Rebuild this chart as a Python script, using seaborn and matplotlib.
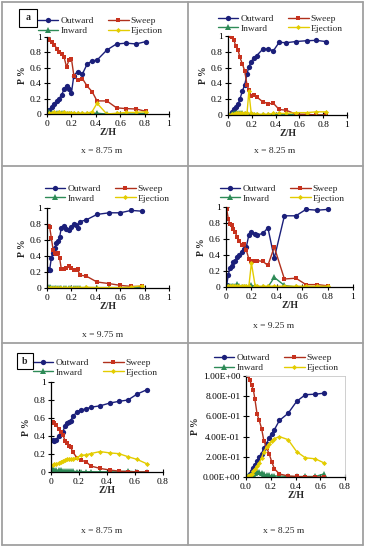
import matplotlib
matplotlib.use("Agg")
import matplotlib.pyplot as plt
import seaborn as sns
import numpy as np
from matplotlib.lines import Line2D
from matplotlib.patches import Rectangle
from matplotlib.ticker import FuncFormatter

# panel a, x = 8.75 m
z_a1 = [0.01, 0.02, 0.04, 0.06, 0.08, 0.10, 0.12, 0.14, 0.16, 0.18, 0.20, 0.22, 0.25, 0.29, 0.33, 0.37, 0.41, 0.49, 0.57, 0.65, 0.73, 0.81]
out_a1 = [0.0, 0.05, 0.09, 0.13, 0.17, 0.2, 0.25, 0.32, 0.37, 0.33, 0.27, 0.5, 0.55, 0.52, 0.65, 0.69, 0.70, 0.83, 0.91, 0.92, 0.91, 0.94]
sweep_a1 = [0.98, 0.96, 0.94, 0.90, 0.85, 0.81, 0.78, 0.74, 0.61, 0.70, 0.72, 0.50, 0.44, 0.46, 0.36, 0.29, 0.17, 0.17, 0.08, 0.07, 0.065, 0.035]
inw_a1 = [0.02, 0.02, 0.01, 0.01, 0.01, 0.01, 0.01, 0.01, 0.005, 0.005, 0.005, 0.005, 0.005, 0.005, 0.005, 0.005, 0.01, 0.0, 0.0, 0.0, 0.0, 0.01]
ej_a1 = [0.0, 0.01, 0.01, 0.02, 0.01, 0.02, 0.01, 0.02, 0.01, 0.01, 0.01, 0.01, 0.01, 0.01, 0.01, 0.03, 0.14, 0.0, 0.01, 0.02, 0.02, 0.03]

# panel a, x = 8.25 m
z_a2 = [0.01, 0.03, 0.05, 0.065, 0.085, 0.10, 0.12, 0.14, 0.16, 0.175, 0.195, 0.215, 0.24, 0.29, 0.34, 0.38, 0.43, 0.49, 0.57, 0.66, 0.74, 0.82]
out_a2 = [0.0, 0.04, 0.07, 0.10, 0.14, 0.20, 0.30, 0.38, 0.52, 0.61, 0.675, 0.72, 0.75, 0.83, 0.84, 0.81, 0.92, 0.915, 0.93, 0.94, 0.945, 0.93]
sweep_a2 = [1.0, 0.99, 0.95, 0.87, 0.82, 0.73, 0.65, 0.56, 0.38, 0.32, 0.24, 0.25, 0.23, 0.17, 0.14, 0.15, 0.07, 0.06, 0.01, 0.01, 0.0, 0.0]
inw_a2 = [0.0, 0.01, 0.02, 0.03, 0.03, 0.03, 0.02, 0.01, 0.005, 0.0, 0.0, 0.0, 0.005, 0.0, 0.005, 0.005, 0.01, 0.01, 0.0, 0.0, 0.0, 0.0]
ej_a2 = [0.0, 0.01, 0.01, 0.02, 0.02, 0.02, 0.02, 0.02, 0.02, 0.30, 0.02, 0.01, 0.01, 0.01, 0.01, 0.02, 0.02, 0.02, 0.03, 0.03, 0.04, 0.04]

# panel a, x = 9.75 m
z_a3 = [0.008, 0.022, 0.036, 0.05, 0.063, 0.077, 0.09, 0.104, 0.117, 0.137, 0.158, 0.18, 0.20, 0.22, 0.235, 0.25, 0.27, 0.32, 0.41, 0.51, 0.60, 0.69, 0.78]
out_a3 = [0.24, 0.23, 0.38, 0.44, 0.50, 0.56, 0.59, 0.64, 0.75, 0.77, 0.74, 0.73, 0.76, 0.80, 0.79, 0.75, 0.83, 0.85, 0.92, 0.94, 0.94, 0.97, 0.96]
sweep_a3 = [0.77, 0.76, 0.62, 0.48, 0.44, 0.42, 0.44, 0.37, 0.24, 0.24, 0.25, 0.27, 0.25, 0.22, 0.23, 0.24, 0.16, 0.15, 0.075, 0.055, 0.033, 0.02, 0.02]
inw_a3 = [0.01, 0.01, 0.005, 0.005, 0.005, 0.005, 0.005, 0.005, 0.005, 0.005, 0.005, 0.005, 0.005, 0.005, 0.005, 0.005, 0.005, 0.005, 0.005, 0.005, 0.005, 0.005, 0.01]
ej_a3 = [0.0, 0.005, 0.005, 0.005, 0.005, 0.005, 0.005, 0.005, 0.005, 0.005, 0.005, 0.005, 0.005, 0.005, 0.005, 0.005, 0.005, 0.01, 0.005, 0.005, 0.005, 0.01, 0.03]

# panel a, x = 9.25 m
z_a4 = [0.005, 0.018, 0.03, 0.045, 0.058, 0.07, 0.09, 0.105, 0.123, 0.14, 0.16, 0.18, 0.20, 0.23, 0.246, 0.29, 0.33, 0.38, 0.46, 0.55, 0.63, 0.72, 0.80]
out_a4 = [0.02, 0.15, 0.24, 0.26, 0.31, 0.33, 0.375, 0.40, 0.44, 0.48, 0.50, 0.65, 0.69, 0.66, 0.65, 0.67, 0.74, 0.36, 0.89, 0.89, 0.97, 0.96, 0.97]
sweep_a4 = [0.98, 0.85, 0.79, 0.77, 0.73, 0.69, 0.62, 0.58, 0.52, 0.54, 0.46, 0.35, 0.33, 0.33, 0.33, 0.32, 0.27, 0.50, 0.10, 0.11, 0.03, 0.03, 0.015]
inw_a4 = [0.0, 0.01, 0.01, 0.01, 0.01, 0.01, 0.04, 0.01, 0.0, 0.0, 0.0, 0.0, 0.02, 0.01, 0.0, 0.0, 0.0, 0.12, 0.02, 0.0, 0.0, 0.0, 0.0]
ej_a4 = [0.0, 0.01, 0.01, 0.01, 0.01, 0.01, 0.01, 0.01, 0.01, 0.01, 0.01, 0.01, 0.30, 0.01, 0.01, 0.01, 0.01, 0.01, 0.01, 0.01, 0.01, 0.01, 0.01]

# panel b, x = 8.75 m
z_b1 = [0.012, 0.024, 0.038, 0.054, 0.07, 0.085, 0.10, 0.114, 0.125, 0.14, 0.156, 0.185, 0.213, 0.25, 0.284, 0.35, 0.42, 0.485, 0.55, 0.615, 0.686]
out_b1 = [0.36, 0.35, 0.36, 0.40, 0.42, 0.45, 0.51, 0.54, 0.56, 0.57, 0.62, 0.665, 0.69, 0.70, 0.72, 0.735, 0.766, 0.785, 0.80, 0.866, 0.915]
sweep_b1 = [0.56, 0.55, 0.52, 0.48, 0.45, 0.41, 0.35, 0.32, 0.29, 0.28, 0.22, 0.16, 0.13, 0.115, 0.067, 0.04, 0.022, 0.01, 0.004, 0.0, 0.0]
inw_b1 = [0.03, 0.025, 0.02, 0.02, 0.018, 0.015, 0.015, 0.012, 0.01, 0.01, 0.008, 0.005, 0.005, 0.003, 0.003, 0.002, 0.002, 0.002, 0.01, 0.0, 0.0]
ej_b1 = [0.078, 0.085, 0.09, 0.10, 0.115, 0.125, 0.13, 0.145, 0.14, 0.14, 0.15, 0.16, 0.185, 0.19, 0.205, 0.227, 0.212, 0.204, 0.17, 0.14, 0.09]

# panel b, x = 8.25 m
z_b2 = [0.013, 0.03, 0.045, 0.06, 0.072, 0.09, 0.107, 0.126, 0.144, 0.166, 0.187, 0.208, 0.23, 0.27, 0.34, 0.41, 0.48, 0.56, 0.63]
out_b2 = [0.0, 0.03, 0.06, 0.09, 0.12, 0.16, 0.20, 0.23, 0.29, 0.33, 0.39, 0.43, 0.47, 0.56, 0.63, 0.75, 0.815, 0.82, 0.83]
sweep_b2 = [1.0, 0.96, 0.91, 0.86, 0.77, 0.62, 0.56, 0.48, 0.36, 0.29, 0.23, 0.15, 0.08, 0.03, 0.01, 0.005, 0.0, 0.0, 0.0]
inw_b2 = [0.005, 0.01, 0.02, 0.03, 0.04, 0.05, 0.045, 0.035, 0.025, 0.02, 0.015, 0.012, 0.01, 0.01, 0.005, 0.005, 0.005, 0.005, 0.03]
ej_b2 = [0.005, 0.02, 0.03, 0.06, 0.08, 0.11, 0.14, 0.19, 0.25, 0.30, 0.33, 0.36, 0.38, 0.40, 0.37, 0.25, 0.19, 0.18, 0.14]

sns.set_style("white")
plt.rcParams['font.family'] = ['Liberation Serif', 'DejaVu Serif']
FS = 6.8

W, H = 365, 550
fig = plt.figure(figsize=(W / 100, H / 100), dpi=100)


def px_axes(x0, x1, ytop, ybot):
    return fig.add_axes([x0 / W, 1 - ybot / H, (x1 - x0) / W, (ybot - ytop) / H])


def draw_panel(rect, z, out, sweep, inw, ej, xmax, caption, cap_xy, leg_xy, sci=False):
    ax = px_axes(*rect)
    sns.lineplot(x=z, y=out, ax=ax, color='#1b1f7a', marker='o', markersize=3.8,
                 markeredgewidth=0, linewidth=1.0, label='Outward')
    sns.lineplot(x=z, y=inw, ax=ax, color='#2e8b57', marker='^', markersize=3.8,
                 markeredgewidth=0, linewidth=1.0, label='Inward')
    sns.lineplot(x=z, y=sweep, ax=ax, color='#b0301c', marker='s', markersize=3.5,
                 markeredgewidth=0, markerfacecolor='#c8321e', linewidth=1.0, label='Sweep')
    sns.lineplot(x=z, y=ej, ax=ax, color='#e3cc00', marker='D', markersize=2.6,
                 markeredgewidth=0, linewidth=1.0, label='Ejection')
    ax.set_xlim(0, xmax)
    ax.set_ylim(0, 1)
    ax.set_xticks(np.arange(0, xmax + 0.01, 0.2))
    ax.set_yticks(np.arange(0, 1.01, 0.2))
    if sci:
        ax.yaxis.set_major_formatter(FuncFormatter(lambda v, p: '{:.2E}'.format(v)))
        ax.xaxis.set_major_formatter(FuncFormatter(lambda v, p: '{:.1f}'.format(v)))
    else:
        ax.yaxis.set_major_formatter(FuncFormatter(lambda v, p: '{:g}'.format(round(v, 2))))
        ax.xaxis.set_major_formatter(FuncFormatter(lambda v, p: '{:g}'.format(round(v, 2))))
    for s in ['left', 'bottom']:
        ax.spines[s].set_color('black')
        ax.spines[s].set_linewidth(0.9)
    for s in ['top', 'right']:
        ax.spines[s].set_visible(sci)
        ax.spines[s].set_color('#c8c8c8')
        ax.spines[s].set_linewidth(0.6)
    ax.tick_params(direction='inout', length=4, width=0.8, labelsize=FS, pad=2,
                   left=True, bottom=True, colors='black')
    ax.set_xlabel('Z/H', fontsize=7, fontweight='bold', labelpad=0)
    ax.set_ylabel('P %', fontsize=7, fontweight='bold', labelpad=2)
    h, l = ax.get_legend_handles_labels()
    ax.legend(h, l, ncol=2, loc='center', bbox_to_anchor=(leg_xy[0] / W, 1 - leg_xy[1] / H),
              bbox_transform=fig.transFigure, frameon=False, fontsize=FS,
              handlelength=2.2, handletextpad=0.2, columnspacing=1.5, labelspacing=0.12,
              borderpad=0)
    fig.text(cap_xy[0] / W, 1 - cap_xy[1] / H, caption, fontsize=FS, ha='center', va='center')
    return ax


draw_panel((47, 169, 37, 114), z_a1, out_a1, sweep_a1, inw_a1, ej_a1, 1.0, 'x = 8.75 m', (102, 151), (100, 26))
draw_panel((228, 347, 36, 115), z_a2, out_a2, sweep_a2, inw_a2, ej_a2, 1.0, 'x = 8.25 m', (275, 151), (280, 23.5))
draw_panel((47, 169, 208, 288), z_a3, out_a3, sweep_a3, inw_a3, ej_a3, 1.0, 'x = 9.75 m', (103, 335), (107, 193.5))
draw_panel((226, 353, 207, 287), z_a4, out_a4, sweep_a4, inw_a4, ej_a4, 1.0, 'x = 9.25 m', (274, 326), (282, 193.5))
draw_panel((51, 163, 382, 472), z_b1, out_b1, sweep_b1, inw_b1, ej_b1, 0.8, 'x = 8.75 m', (102, 531), (95, 367.5))
draw_panel((246, 345, 376, 477), z_b2, out_b2, sweep_b2, inw_b2, ej_b2, 0.8, 'x = 8.25 m', (284, 531), (276, 363), sci=True)

# grid of panel borders
grey = '#a0a0a0'
for (xa, ya, xb, yb) in [(2, 2, 363, 2), (2, 545, 363, 545), (2, 2, 2, 545), (363, 2, 363, 545),
                         (188, 2, 188, 545), (2, 166, 363, 166), (2, 343, 363, 343)]:
    fig.add_artist(Line2D([xa / W, xb / W], [1 - ya / H, 1 - yb / H], color=grey, lw=1.3))

# panel letters
for letter, (bx, by, bs) in [('a', (19, 9, 18)), ('b', (17, 353, 16))]:
    fig.add_artist(Rectangle((bx / W, 1 - (by + bs) / H), bs / W, bs / H, fill=False,
                             edgecolor='black', lw=0.8, transform=fig.transFigure))
    fig.text((bx + bs / 2) / W, 1 - (by + bs / 2) / H, letter, fontsize=7, fontweight='bold',
             ha='center', va='center')

fig.savefig('out.png', dpi=100, facecolor='white')
